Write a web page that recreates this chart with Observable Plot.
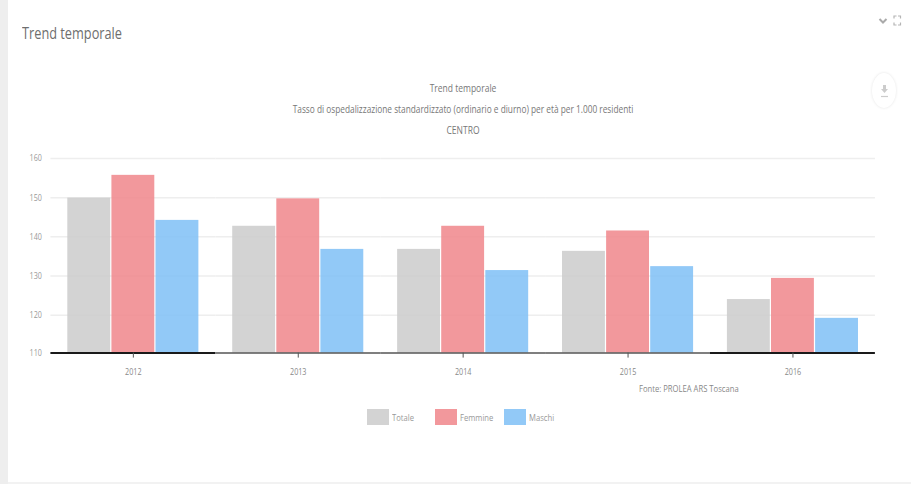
<!DOCTYPE html>
<html>
<head>
<meta charset="utf-8">
<script src="https://cdn.jsdelivr.net/npm/d3@7"></script>
<script src="https://cdn.jsdelivr.net/npm/@observablehq/plot@0.6"></script>
<style>
  html, body { margin: 0; padding: 0; background: #fff; }
  body { width: 911px; height: 484px; position: relative; overflow: hidden; font-family: "Open Sans", sans-serif; color: #666; }
  .rail { position: absolute; left: 0; top: 0; width: 8px; height: 484px; background: #eeeeee; }
  .foot { position: absolute; left: 8px; right: 0; top: 482px; height: 2px; background: #f2f2f2; }
  .t { position: absolute; white-space: nowrap; transform-origin: 0 50%; line-height: 1; }
  #chart { position: absolute; left: 0; top: 0; }
  .sw { position: absolute; width: 22px; height: 16px; top: 409px; opacity: 0.85; }
  .btn { position: absolute; left: 872px; top: 73px; width: 24px; height: 35px; border-radius: 50%; background: #fff; box-shadow: 0 0 3px #e4e4e4; }
  .icon { position: absolute; left: 0; top: 0; }
</style>
</head>
<body>
<div class="rail"></div>
<div class="foot"></div>
<div id="chart"></div>
<div class="btn"></div>
<svg class="icon" width="911" height="120">
  <path d="M879.5 19 L883 22.5 L886.5 19" fill="none" stroke="#aaa" stroke-width="2"/>
  <path d="M894 18.5 v-2.5 h2.5 M900.5 18.5 v-2.5 h-2.5 M894 22.5 v2.5 h2.5 M900.5 22.5 v2.5 h-2.5" fill="none" stroke="#b5b5b5" stroke-width="1.2"/>
  <path d="M883 85 h3 v4 h2 l-3.5 4 l-3.5 -4 h2 z" fill="#ccc"/>
  <path d="M881 96.5 h7" stroke="#ccc" stroke-width="1.2"/>
</svg>
<script>
// Hospitalisation rate per 1,000 residents, CENTRO area
const years = [2012, 2013, 2014, 2015, 2016];
const seriesNames = ["Totale", "Femmine", "Maschi"];
const seriesColors = ["#cbcbcb", "#f0868b", "#7fc0f6"];
const totale = [149.9, 142.7, 136.8, 136.3, 124];
const femmine = [155.7, 149.7, 142.7, 141.5, 129.4];
const maschi = [144.2, 136.8, 131.4, 132.4, 119.2];
const yTicks = [110, 120, 130, 140, 150, 160];

const rows = years.flatMap((year, i) => [
  {year, serie: "Totale", value: totale[i]},
  {year, serie: "Femmine", value: femmine[i]},
  {year, serie: "Maschi", value: maschi[i]}
]);

const plot = Plot.plot({
  width: 911,
  height: 484,
  marginLeft: 50.4,
  marginRight: 36.1,
  marginTop: 158,
  marginBottom: 131.4,
  style: {background: "transparent", fontFamily: "'Open Sans', sans-serif", fontSize: "9px", color: "#777"},
  fx: {domain: years, padding: 0, round: false, axis: null},
  x: {domain: seriesNames, paddingInner: 0, paddingOuter: 0.37, round: false, axis: null},
  // The lowest gridline sits slightly under the axis line, so 110 is clamped onto it
  y: {type: "linear", domain: [110.33, 160], clamp: true, axis: null},
  color: {domain: seriesNames, range: seriesColors},
  marks: [
    Plot.ruleY(yTicks.slice(1), {stroke: "#eeeeee", strokeWidth: 1.5}),
    Plot.barY(rows, {fx: "year", x: "serie", y1: () => 110, y2: "value", fill: "serie", fillOpacity: 0.85, insetLeft: 0.6, insetRight: 0.6}),
    // The baseline is darker under the first and last years
    Plot.ruleY(years, {
      fx: d => d,
      y: () => 110,
      stroke: d => (d === years[0] || d === years[years.length - 1]) ? "#1a1a1a" : "#555",
      strokeWidth: d => (d === years[0] || d === years[years.length - 1]) ? 2 : 1.5
    }),
    Plot.axisY(yTicks, {tickSize: 0, tickPadding: 0, anchor: "left", dx: -9, label: null, fill: "#999"}),
    Plot.axisFx({anchor: "bottom", tickSize: 5, tickPadding: 11, label: null, color: "#555", tickFormat: d => String(d)})
  ]
});
document.getElementById("chart").appendChild(plot);

// Narrow the axis labels to the condensed look of the dashboard
plot.querySelectorAll('[aria-label$="tick label"] text').forEach(el => {
  el.setAttribute("textLength", el.getComputedTextLength() * 0.8);
  el.setAttribute("lengthAdjust", "spacingAndGlyphs");
  if (/^20/.test(el.textContent)) el.setAttribute("fill", "#888");
});

// Text placed around the plot
function label(text, x, y, size, scale, color, anchor) {
  const el = document.createElement("div");
  el.className = "t";
  el.textContent = text;
  el.style.fontSize = size + "px";
  el.style.color = color;
  el.style.left = x + "px";
  el.style.top = (y - size / 2) + "px";
  if (anchor === "middle") {
    el.style.transformOrigin = "50% 50%";
    el.style.transform = `translateX(-50%) scaleX(${scale})`;
  } else {
    el.style.transform = `scaleX(${scale})`;
  }
  document.body.appendChild(el);
}
label("Trend temporale", 22, 32, 17, 0.75, "#6e6e6e", "start");
label("Trend temporale", 462.5, 88, 10, 0.85, "#777", "middle");
label("Tasso di ospedalizzazione standardizzato (ordinario e diurno) per età per 1.000 residenti", 462.5, 109, 10, 0.83, "#777", "middle");
label("CENTRO", 462.5, 130, 10, 0.85, "#777", "middle");
label("Fonte: PROLEA ARS Toscana", 639, 388, 9, 0.85, "#888", "start");

// Legend
const legendX = [367, 435, 504];
const legendTextX = [392, 460, 529];
seriesNames.forEach((name, i) => {
  const sw = document.createElement("div");
  sw.className = "sw";
  sw.style.left = legendX[i] + "px";
  sw.style.background = seriesColors[i];
  document.body.appendChild(sw);
  label(name, legendTextX[i], 417, 9, 0.85, "#999", "start");
});
</script>
</body>
</html>
